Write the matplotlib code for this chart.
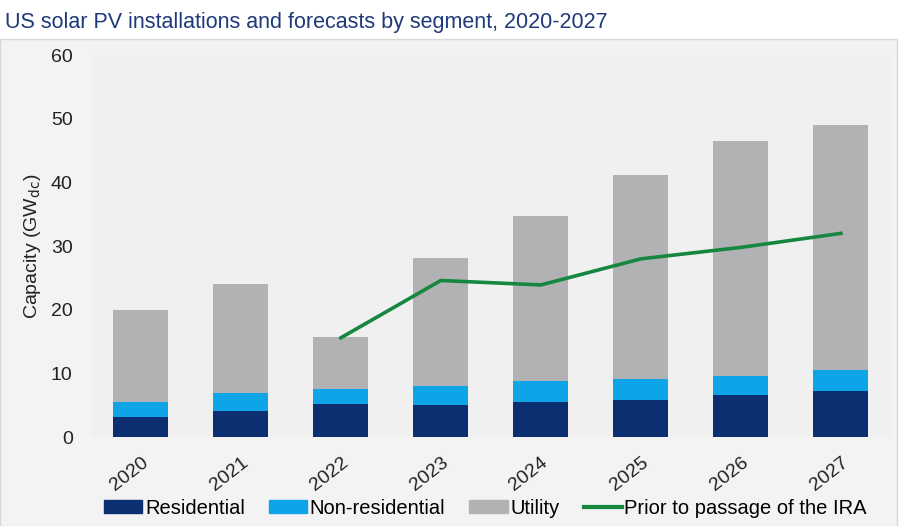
import matplotlib.pyplot as plt
from matplotlib.patches import Rectangle
from matplotlib.lines import Line2D
import numpy as np

plt.rcParams['font.family'] = ['Liberation Sans', 'DejaVu Sans']

years = ["2020", "2021", "2022", "2023", "2024", "2025", "2026", "2027"]
residential = [3.2, 4.1, 5.2, 5.0, 5.5, 5.9, 6.6, 7.2]
non_residential = [2.3, 2.9, 2.4, 3.0, 3.3, 3.3, 3.0, 3.3]
utility = [14.5, 17.0, 8.1, 20.1, 25.9, 31.9, 36.9, 38.6]
prior_ira_years = ["2022", "2023", "2024", "2025", "2026", "2027"]
prior_ira = [15.6, 24.6, 23.9, 28.0, 29.8, 32.0]

c_res = "#0c2f72"
c_nonres = "#0ea5e8"
c_util = "#b2b2b4"
c_line = "#16873f"

fig = plt.figure(figsize=(8.99, 5.26), dpi=100)
fig.patch.set_facecolor("white")

# light panel behind the chart
panel = Rectangle((0.0, 0.0), 0.998, 0.925, transform=fig.transFigure,
                  facecolor="#f3f3f3", edgecolor="#d8d8d8", lw=1, zorder=-5)
fig.add_artist(panel)

ax = fig.add_axes([0.101, 0.169, 0.890, 0.7262])
ax.set_facecolor("#f0f0f0")

x = np.arange(len(years))
res = np.array(residential)
nonres = np.array(non_residential)
util = np.array(utility)
w = 0.55
ax.bar(x, res, w, color=c_res, label="Residential")
ax.bar(x, nonres, w, bottom=res, color=c_nonres, label="Non-residential")
ax.bar(x, util, w, bottom=res + nonres, color=c_util, label="Utility")

lx = [years.index(y) for y in prior_ira_years]
ax.plot(lx, prior_ira, color=c_line, lw=2.6, label="Prior to passage of the IRA")

ax.set_xlim(-0.5, len(years) - 0.5)
ax.set_ylim(0, 60)
ax.set_yticks(range(0, 61, 10))
ax.set_xticks(x)
ax.set_xticklabels(years, rotation=38, ha="right", rotation_mode="anchor")
ax.tick_params(axis="both", length=0, labelsize=14, colors="#222222")
ax.tick_params(axis="y", pad=13)
ax.tick_params(axis="x", pad=12)
for s in ax.spines.values():
    s.set_visible(False)

ax.set_ylabel("Capacity (GW$_{\\mathrm{dc}}$)", fontsize=14, color="#222222", labelpad=6)

fig.text(0.006, 0.958, "US solar PV installations and forecasts by segment, 2020-2027",
         fontsize=15.5, color="#1f3a7a", va="center", ha="left")

handles = [Rectangle((0, 0), 1, 1, color=c_res),
           Rectangle((0, 0), 1, 1, color=c_nonres),
           Rectangle((0, 0), 1, 1, color=c_util),
           Line2D([0], [0], color=c_line, lw=3)]
labels = ["Residential", "Non-residential", "Utility", "Prior to passage of the IRA"]
fig.legend(handles, labels, loc="center", bbox_to_anchor=(0.54, 0.034), ncol=4,
           frameon=False, fontsize=14.5, handlelength=1.9, handleheight=0.55,
           handletextpad=0.12, columnspacing=1.2)

fig.savefig("out.png", dpi=100)
